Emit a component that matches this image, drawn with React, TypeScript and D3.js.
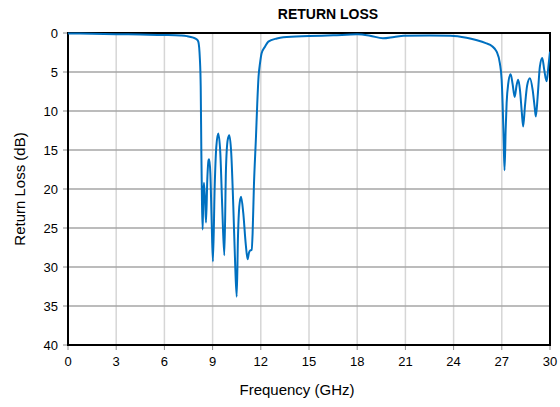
import React from "react";
import * as d3 from "d3";

const freqGHz = [
  0, 1.5, 3.0, 4.5, 6.0, 7.0, 7.4, 7.8, 8.0, 8.11, 8.21, 8.26, 8.3, 8.34, 8.38, 8.42, 8.46, 8.53, 8.59,
  8.67, 8.75, 8.79, 8.86, 8.94, 9.02, 9.13, 9.23, 9.35, 9.48, 9.6, 9.73, 9.83, 9.94, 10.04, 10.16,
  10.29, 10.41, 10.5, 10.58, 10.66, 10.77, 10.91, 11.06, 11.18, 11.26, 11.33, 11.43, 11.49, 11.57,
  11.7, 11.78, 11.86, 11.95, 12.05, 12.26, 12.47, 13.0, 13.4, 15.0, 16.5, 18.0, 18.8, 19.6, 20.3,
  20.9, 22.5, 23.8, 24.8, 25.4, 26.0, 26.4, 26.68, 26.88, 26.99, 27.05, 27.11, 27.17, 27.24, 27.3,
  27.4, 27.55, 27.67, 27.8, 27.92, 28.02, 28.13, 28.25, 28.33, 28.44, 28.58, 28.75, 28.92, 29.04,
  29.12, 29.23, 29.37, 29.52, 29.64, 29.79, 29.9, 30.0,
];
const returnLossDb = [
  0.05, 0.1, 0.15, 0.2, 0.25, 0.32, 0.4, 0.6, 0.8, 1.1, 3.4, 6.9, 15.4, 21.8, 25.2, 21.0, 19.2, 21.4, 24.3,
  18.8, 16.3, 16.2, 18.0, 24.0, 29.3, 19.7, 14.6, 12.9, 15.4, 22.3, 28.5, 17.6, 13.7, 13.1, 15.4,
  22.3, 30.0, 33.8, 26.1, 22.3, 21.0, 23.1, 27.0, 29.0, 28.2, 27.9, 27.8, 25.7, 19.7,
  13.3, 9.0, 5.6, 3.9, 2.6, 1.75, 1.1, 0.7, 0.55, 0.4, 0.3, 0.17, 0.35, 0.68, 0.5,
  0.34, 0.32, 0.34, 0.6, 0.9, 1.3, 1.7, 2.4, 3.9, 6.0, 9.0, 13.3, 17.6, 12.4, 9.0,
  6.5, 5.3, 6.5, 8.2, 6.7, 6.0, 7.3, 10.3, 12.0, 9.4, 6.7, 5.8, 7.3, 9.4,
  10.7, 8.2, 4.3, 3.2, 4.7, 6.2, 4.3, 2.4,
];
const xTicks = [0, 3, 6, 9, 12, 15, 18, 21, 24, 27, 30];
const yTicks = [0, 5, 10, 15, 20, 25, 30, 35, 40];

const W = 560;
const H = 407;
const M = { left: 68, right: 550, top: 33, bottom: 345 };
const FONT = "Liberation Sans, Arial, sans-serif";

export default function App() {
  const x = d3.scaleLinear().domain([0, 30]).range([M.left, M.right]);
  const y = d3.scaleLinear().domain([0, 40]).range([M.top, M.bottom]);
  const pts: [number, number][] = freqGHz.map((f, i) => [f, returnLossDb[i]]);
  const line = d3
    .line<[number, number]>()
    .x((d) => x(d[0]))
    .y((d) => y(d[1]))
    .curve(d3.curveMonotoneX);

  return (
    <svg width={W} height={H} style={{ position: "absolute", left: 0, top: 0, background: "#fff" }}>
      <defs>
        <clipPath id="plot">
          <rect x={M.left} y={M.top - 2} width={M.right - M.left} height={M.bottom - M.top + 2} />
        </clipPath>
      </defs>
      {xTicks.slice(1, -1).map((t) => (
        <line key={"vx" + t} x1={x(t)} x2={x(t)} y1={M.top} y2={M.bottom} stroke="#d6d6d6" strokeWidth={1.5} />
      ))}
      {yTicks.slice(1, -1).map((t) => (
        <line key={"hy" + t} x1={M.left} x2={M.right} y1={y(t)} y2={y(t)} stroke="#a6a6a6" strokeWidth={1.5} />
      ))}
      {yTicks.map((t) => (
        <line key={"ty" + t} x1={M.left - 5} x2={M.left} y1={y(t)} y2={y(t)} stroke="#8c8c8c" strokeWidth={1} />
      ))}
      {xTicks.map((t) => (
        <line key={"tx" + t} x1={x(t)} x2={x(t)} y1={M.bottom} y2={M.bottom + 5} stroke="#8c8c8c" strokeWidth={1} />
      ))}
      <rect
        x={M.left}
        y={M.top}
        width={M.right - M.left}
        height={M.bottom - M.top}
        fill="none"
        stroke="#000"
        strokeWidth={2}
      />
      <path d={line(pts) || ""} fill="none" stroke="#0070c0" strokeWidth={2} clipPath="url(#plot)" strokeLinejoin="round" />
      {yTicks.map((t) => (
        <text key={"ly" + t} x={M.left - 10} y={y(t)} dy="0.35em" textAnchor="end" fontFamily={FONT} fontSize={13} fill="#000">
          {t}
        </text>
      ))}
      {xTicks.map((t) => (
        <text key={"lx" + t} x={x(t)} y={M.bottom + 21} textAnchor="middle" fontFamily={FONT} fontSize={13} fill="#000">
          {t}
        </text>
      ))}
      <text x={328} y={19} textAnchor="middle" fontFamily={FONT} fontSize={14} fontWeight="bold" fill="#000">
        RETURN LOSS
      </text>
      <text x={297} y={395} textAnchor="middle" fontFamily={FONT} fontSize={15} fill="#000">
        Frequency (GHz)
      </text>
      <text
        transform={`translate(25, ${(M.top + M.bottom) / 2}) rotate(-90)`}
        textAnchor="middle"
        fontFamily={FONT}
        fontSize={15}
        fill="#000"
      >
        Return Loss (dB)
      </text>
    </svg>
  );
}
